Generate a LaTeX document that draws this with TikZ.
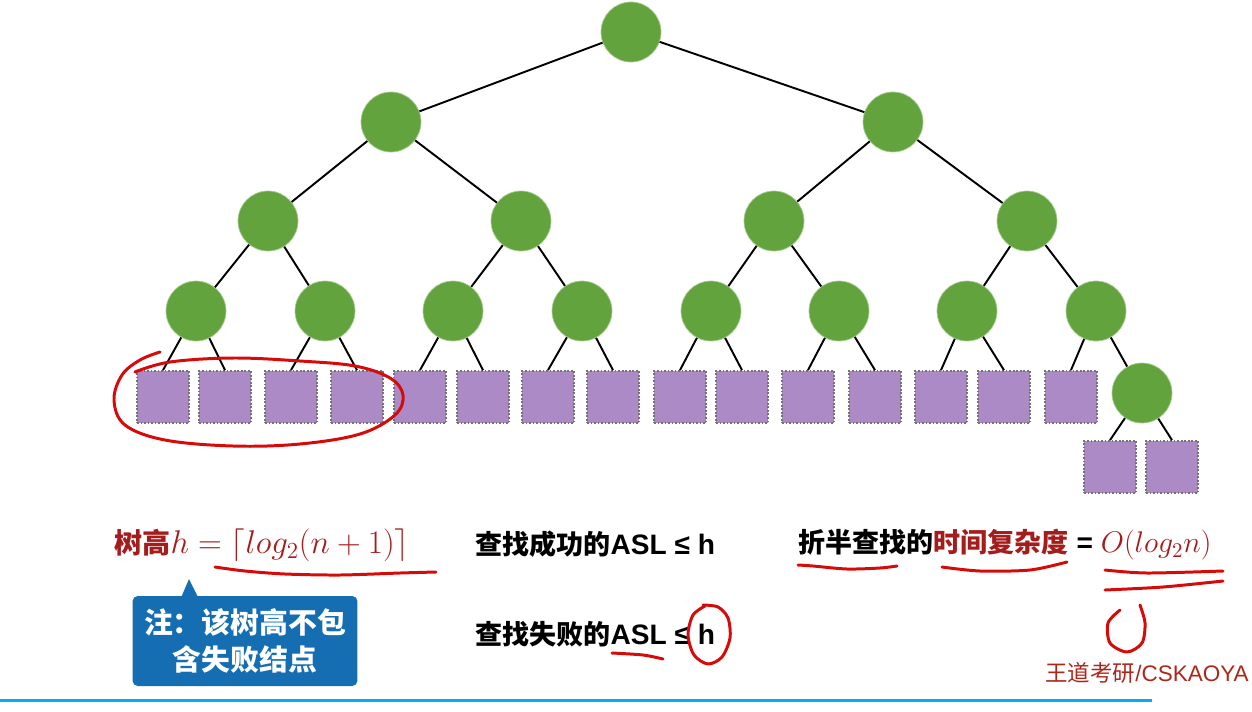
\RequirePackage{fix-cm}
\documentclass[tikz,border=0pt]{standalone}
\usepackage{fontspec}
\newfontfamily\cjk{Noto Sans CJK SC}
\newfontfamily\lat{Liberation Sans}
\usetikzlibrary{arrows.meta, positioning}
\definecolor{nodegreen}{RGB}{99,163,61}
\definecolor{leafpurple}{RGB}{172,138,198}
\definecolor{darkred}{RGB}{165,28,28}
\definecolor{penred}{RGB}{215,10,10}
\definecolor{tipblue}{RGB}{22,110,178}
\definecolor{lineblue}{RGB}{0,175,240}

\begin{document}
\begin{tikzpicture}[
    x=0.02cm, y=-0.02cm,
    inner/.style={circle, fill=nodegreen, draw=nodegreen!55!white, line width=0.4pt, minimum size=1.2cm, inner sep=0pt},
    leaf/.style={rectangle, fill=leafpurple, draw=black!55, line width=1pt, dash pattern=on 1pt off 1pt, minimum size=1.04cm, inner sep=0pt},
    link/.style={line width=1.1pt},
    pen/.style={penred, line width=1.7pt, line cap=round, line join=round},
    txt/.style={font=\cjk\bfseries\fontsize{15.4}{18}\selectfont, inner sep=0pt, anchor=west},
]
    \useasboundingbox (0,0) rectangle (1252,711);
    \clip (0,0) rectangle (1252,711);

    % tree
    \node[inner] (r) at (631,32) {};
    \node[inner] (a) at (391,122) {};
    \node[inner] (b) at (893,122) {};
    \node[inner] (c1) at (268,221) {};
    \node[inner] (c2) at (521,221) {};
    \node[inner] (c3) at (774,221) {};
    \node[inner] (c4) at (1027,221) {};
    \node[inner] (d1) at (196,311) {};
    \node[inner] (d2) at (325,311) {};
    \node[inner] (d3) at (453,311) {};
    \node[inner] (d4) at (582,311) {};
    \node[inner] (d5) at (711,311) {};
    \node[inner] (d6) at (839,311) {};
    \node[inner] (d7) at (967,311) {};
    \node[inner] (d8) at (1096,311) {};
    \node[inner] (e) at (1142,393) {};
    \foreach \x [count=\i] in {163,225,291,357,420,483,548,613,680,742,808,875,941,1004,1071}
        \node[leaf] (s\i) at (\x,397) {};
    \node[leaf] (t1) at (1110,467) {};
    \node[leaf] (t2) at (1172,467) {};

    \foreach \p/\c in {r/a, r/b, a/c1, a/c2, b/c3, b/c4, c1/d1, c1/d2, c2/d3, c2/d4,
                       c3/d5, c3/d6, c4/d7, c4/d8, d8/e}
        \draw[link] (\p) -- (\c);
    \foreach \p/\c in {d1/s1, d1/s2, d2/s3, d2/s4, d3/s5, d3/s6, d4/s7, d4/s8,
                       d5/s9, d5/s10, d6/s11, d6/s12, d7/s13, d7/s14, d8/s15, e/t1, e/t2}
        \draw[link] (\p) -- (\c.north);

    % formulas
    \node[txt, text=darkred] (height) at (114,545)
        {{\fontsize{16}{18}\selectfont 树高}{\mdseries\fontsize{18.7}{22}\selectfont$h=\lceil log_2(n+1)\rceil$}};
    \node[txt] (okasl) at (475,544) {查找成功的{\lat\fontsize{16}{18}\selectfont ASL ≤ h}};
    \node[txt] (failasl) at (475,634) {查找失败的{\lat\fontsize{16}{18}\selectfont ASL ≤ h}};
    \node[txt] (cost) at (798,545)
        {折半查找的{\color{darkred}时间复杂度}{\lat\fontsize{16}{18}\selectfont\ =\ }{\color{darkred}\mdseries\fontsize{17}{20}\selectfont$O(log_2n)$}};

    % callout
    \node[fill=tipblue, rounded corners=3pt, minimum width=4.5cm, minimum height=1.8cm, inner sep=0pt,
          text=white, align=center, font=\cjk\bfseries\fontsize{16.4}{21}\selectfont] (note) at (245,641)
        {注：该树高不包\\含失败结点};
    \coordinate (tip) at (189,579);
    \fill[tipblue] ([xshift=0.98cm, yshift=-1pt]note.north west) -- (tip)
        -- ([xshift=1.32cm, yshift=-1pt]note.north west) -- cycle;

    % watermark and rule
    \node[anchor=west, inner sep=0pt, text=darkred!90!orange, font=\cjk\fontsize{12.8}{15}\selectfont] (mark) at (1045,673)
        {王道考研{\lat/CSKAOYA}};
    \draw[lineblue, line width=1.7pt] (0,700) -- (1152,700);

    % hand-drawn marks
    \draw[pen] plot[smooth, tension=0.6] coordinates {(160,352) (140,360) (122,375) (114,400) (125,425)
        (165,440) (233,446) (300,444) (360,434) (395,415) (403,395) (390,378) (355,366) (300,361)
        (233,358) (170,362) (135,372)};
    \draw[pen] plot[smooth] coordinates {(215,567) (245,571) (285,574) (340,575) (400,573) (436,572)};
    \draw[pen] plot[smooth] coordinates {(798,565) (813,566) (847,569) (880,568) (897,566)};
    \draw[pen] plot[smooth] coordinates {(942,567) (980,571) (1030,570) (1067,562)};
    \draw[pen] plot[smooth] coordinates {(1105,570) (1147,573) (1223,571)};
    \draw[pen] plot[smooth] coordinates {(1105,590) (1163,587) (1223,581)};
    \draw[pen] plot[smooth] coordinates {(1120,610) (1108,623) (1110,643) (1127,652) (1142,643) (1145,623) (1140,605)};
    \draw[pen] plot[smooth] coordinates {(612,653) (643,655) (663,659)};
    \draw[pen] plot[smooth] coordinates {(705,606) (693,615) (688,635) (694,655) (708,664) (722,657)
        (730,638) (728,618) (718,607) (703,605)};
\end{tikzpicture}
\end{document}
